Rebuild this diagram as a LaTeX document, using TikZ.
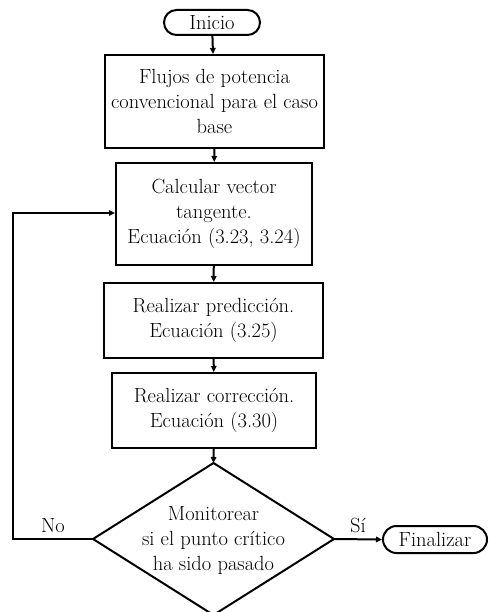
\documentclass[tikz,border=0pt]{standalone}
\usetikzlibrary{arrows.meta,shapes.misc}
\begin{document}
\begin{tikzpicture}[x=1pt,y=-1pt,
  every node/.style={font=\fontsize{20.5}{25}\selectfont, align=center, inner sep=0pt},
  procbox/.style={draw, line width=2pt, rectangle},
  termbox/.style={draw, line width=2pt, rounded rectangle},
  outline/.style={line width=2pt, line join=miter},
  flow/.style={line width=2pt, -{Triangle[length=6pt,width=5.5pt]}}]
\clip (0,0) rectangle (488,612);
\fill[white] (0,0) rectangle (488,612);

\node[termbox, minimum width=96pt, minimum height=25pt] (ini) at (212,22.5) {Inicio};
\node[procbox, minimum width=219pt, minimum height=93pt] (flujo) at (214.5,101.5)
  {Flujos de potencia\\convencional para el caso\\base};
\node[procbox, minimum width=196pt, minimum height=102pt] (tang) at (214,214)
  {Calcular vector\\tangente.\\Ecuación (3.23, 3.24)};
\node[procbox, minimum width=219pt, minimum height=75pt] (pred) at (213.5,320.5)
  {Realizar predicción.\\Ecuación (3.25)};
\node[procbox, minimum width=204pt, minimum height=75pt] (corr) at (214,410.5)
  {Realizar corrección.\\Ecuación (3.30)};

% decision diamond, drawn from its four corners
\coordinate (montop) at (213.5,463);
\coordinate (monleft) at (93,539);
\coordinate (monright) at (334,539);
\coordinate (monbot) at (213.5,615);
\draw[outline] (montop) -- (monright) -- (monbot) -- (monleft) -- cycle;
\node (mon) at (213.5,540) {Monitorear\\si el punto crítico\\ha sido pasado};

\node[termbox, minimum width=104pt, minimum height=27pt] (fin) at (435,539.5) {Finalizar};

\draw[flow] (ini) -- (flujo);
\draw[flow] (flujo) -- (tang);
\draw[flow] (tang) -- (pred);
\draw[flow] (pred) -- (corr);
\draw[flow] (corr) -- (montop);
\draw[flow] (monright) -- node[above=5pt] {Sí} (fin.west);
\coordinate (lowleft) at (13,539);
\coordinate (upleft) at (13,213);
\draw[flow] (monleft) -- node[pos=0.5, above=5pt] {No} (lowleft) -- (upleft) -- (tang.west |- upleft);
\end{tikzpicture}
\end{document}
